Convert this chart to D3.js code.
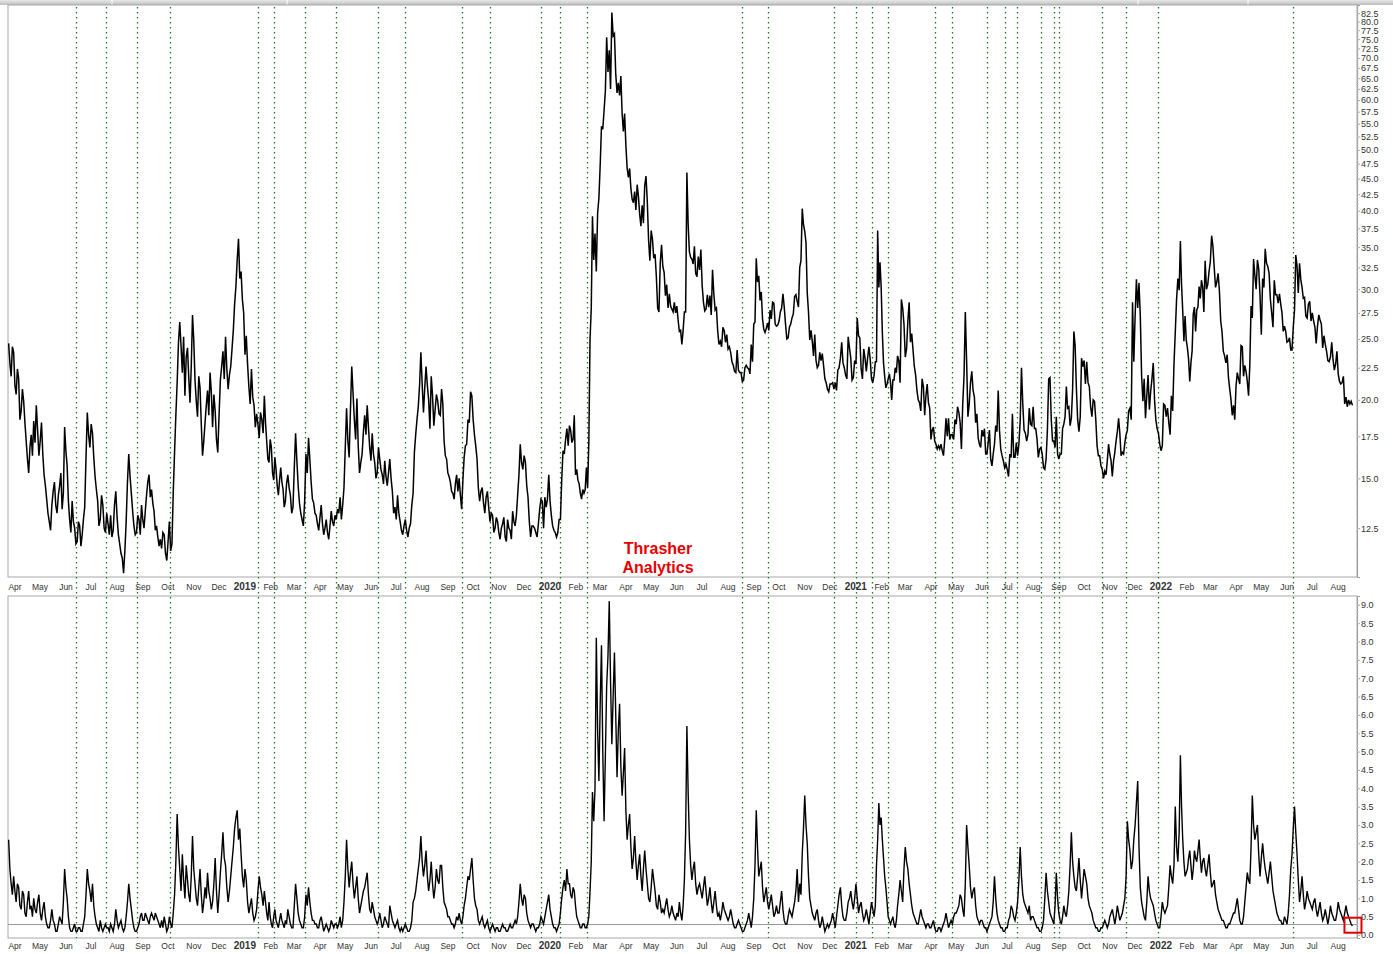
<!DOCTYPE html>
<html>
<head>
<meta charset="utf-8">
<script src="https://cdn.jsdelivr.net/npm/d3@7"></script>
<style>
  body { margin: 0; background: #fff; }
  svg { display: block; font-family: Arial, "Liberation Sans", sans-serif; }
</style>
</head>
<body>
<script>
// top panel values, 20 readings per month (2018 starts in April)
const vix2018 = [
  [24.6, 22.9, 21.8, 24.3, 23.8, 21.1, 20.4, 22.4, 21.6, 18.6, 19.2, 20.8, 19.9, 18.4, 17.2, 16.1, 15.3, 16.8, 17.6, 16.3],
  [18.5, 17.1, 19.6, 17.9, 16.3, 17.2, 18.4, 16.4, 15.2, 14.6, 13.9, 13.2, 12.8, 12.4, 13.6, 14.3, 14.8, 13.6, 13.2, 14.1],
  [14.6, 15.3, 13.4, 14.2, 18.1, 16.6, 15.7, 13.8, 12.9, 12.3, 13.8, 12.8, 12.5, 11.8, 11.9, 12.8, 12.6, 11.7, 12.2, 12.9],
  [13.5, 16.2, 19.1, 17.6, 16.8, 18.3, 17.7, 16.2, 15.1, 14.4, 13.8, 12.6, 12.9, 14.1, 13.6, 12.5, 12.3, 13.2, 12.7, 12.2],
  [13.1, 12.1, 12.4, 13.6, 14.3, 13.0, 12.2, 11.8, 11.4, 11.2, 10.6, 11.5, 12.8, 14.8, 16.4, 15.1, 14.2, 13.3, 12.6, 12.2],
  [12.3, 13.1, 12.9, 12.2, 13.6, 12.9, 12.5, 13.3, 14.1, 14.8, 15.2, 14.0, 14.4, 13.7, 13.3, 12.4, 12.6, 12.1, 11.7, 12.0],
  [11.6, 12.3, 12.2, 11.4, 11.1, 11.9, 12.8, 11.5, 11.8, 14.3, 16.5, 18.9, 21.3, 24.6, 26.6, 24.4, 22.1, 25.2, 20.3, 23.4],
  [24.2, 21.7, 19.8, 22.6, 27.3, 24.9, 21.5, 19.9, 18.8, 21.8, 20.9, 18.3, 16.3, 17.2, 18.4, 19.6, 20.7, 18.9, 22.1, 20.6],
  [18.1, 20.4, 19.2, 17.3, 16.5, 18.9, 21.5, 22.6, 23.9, 21.6, 25.2, 22.4, 20.8, 21.9, 22.6, 24.1, 25.8, 28.4, 30.3, 33.4]
];
const vix2019 = [
  [36.1, 31.2, 32.0, 28.9, 27.5, 23.6, 25.3, 22.8, 21.0, 19.7, 22.4, 20.2, 19.6, 18.1, 19.0, 18.3, 17.4, 19.1, 18.6, 17.7],
  [20.3, 18.4, 17.2, 16.1, 15.9, 17.3, 16.8, 15.3, 14.9, 16.2, 15.5, 14.6, 14.1, 14.9, 15.6, 14.8, 14.4, 13.5, 13.8, 14.7],
  [15.2, 14.5, 14.1, 13.2, 13.5, 15.6, 17.7, 16.0, 14.6, 13.7, 13.2, 12.9, 12.6, 13.8, 16.4, 15.3, 17.4, 16.1, 14.8, 13.9],
  [13.7, 13.2, 13.1, 12.7, 12.4, 13.0, 13.6, 12.7, 12.2, 12.5, 12.9, 12.3, 12.0, 12.6, 13.3, 12.8, 12.6, 13.1, 12.9, 13.4],
  [13.2, 14.0, 12.9, 13.6, 14.5, 16.8, 19.4, 17.2, 16.2, 19.3, 22.6, 20.5, 18.6, 17.3, 20.1, 16.9, 15.3, 15.9, 16.4, 17.8],
  [18.9, 17.6, 19.6, 18.1, 16.8, 16.0, 17.7, 16.4, 15.9, 15.0, 15.3, 16.8, 16.1, 15.5, 15.2, 14.7, 16.0, 15.1, 14.6, 15.3],
  [16.1, 15.0, 14.3, 13.2, 13.5, 12.9, 14.1, 13.2, 12.8, 12.4, 12.2, 12.6, 12.9, 12.4, 12.1, 12.5, 12.7, 13.6, 14.2, 16.5],
  [17.6, 18.6, 19.5, 21.1, 23.8, 21.2, 19.1, 20.9, 22.6, 21.1, 20.0, 18.0, 21.8, 20.3, 18.2, 19.3, 20.4, 19.9, 19.0, 18.9],
  [20.8, 19.7, 17.2, 16.3, 16.1, 15.3, 15.1, 14.8, 14.3, 14.2, 13.9, 14.7, 15.2, 14.3, 15.0, 14.1, 13.4, 14.9, 16.2, 16.9],
  [17.0, 18.6, 18.4, 20.6, 20.3, 18.6, 17.6, 16.9, 16.1, 14.5, 13.8, 14.3, 14.5, 13.7, 13.2, 14.0, 14.3, 13.5, 12.8, 13.2],
  [13.1, 12.3, 12.5, 13.0, 12.8, 12.3, 12.0, 12.5, 12.7, 13.0, 12.1, 11.9, 12.9, 12.5, 12.4, 12.0, 13.3, 12.8, 12.6, 13.1],
  [14.1, 15.2, 17.0, 15.9, 15.5, 16.3, 15.9, 14.6, 14.0, 12.8, 12.1, 12.6, 12.6, 12.5, 12.3, 12.1, 12.7, 13.4, 13.9, 13.8]
];
const vix2020 = [
  [12.5, 14.0, 13.5, 13.9, 15.2, 13.8, 13.1, 12.6, 12.4, 12.3, 12.1, 12.3, 12.9, 12.9, 14.9, 16.6, 16.4, 17.3, 18.0, 16.9],
  [18.2, 17.9, 17.1, 17.3, 18.9, 15.2, 15.5, 14.9, 14.7, 14.2, 13.9, 14.4, 14.2, 14.4, 15.6, 14.5, 17.1, 25.0, 27.9, 39.2],
  [33.4, 36.8, 32.0, 39.6, 41.9, 47.3, 54.5, 53.9, 57.8, 62.0, 75.5, 66.5, 72.0, 62.5, 82.7, 75.9, 76.5, 66.0, 61.6, 63.9],
  [61.0, 65.5, 57.1, 53.5, 57.1, 50.9, 46.8, 45.2, 46.7, 43.4, 41.7, 41.2, 42.9, 40.1, 44.0, 42.2, 39.5, 37.8, 40.8, 38.2],
  [43.8, 45.4, 41.4, 35.9, 33.3, 37.2, 36.0, 33.6, 34.1, 31.4, 28.0, 27.6, 33.0, 35.3, 32.6, 31.9, 29.3, 30.5, 28.0, 29.5],
  [28.2, 27.9, 27.6, 28.6, 27.5, 28.2, 26.8, 25.7, 25.8, 24.5, 25.8, 27.6, 27.6, 46.0, 38.1, 34.4, 33.7, 33.5, 32.9, 35.1],
  [31.8, 31.4, 33.8, 32.2, 34.7, 30.4, 28.6, 27.7, 27.9, 29.4, 28.1, 29.3, 27.3, 32.2, 29.5, 27.8, 28.0, 25.7, 24.5, 24.8],
  [24.3, 26.1, 25.8, 24.7, 25.4, 24.1, 24.3, 23.8, 23.0, 22.7, 22.2, 22.1, 24.0, 22.3, 22.1, 22.1, 21.4, 21.5, 22.5, 22.7],
  [22.5, 22.4, 22.0, 24.5, 23.0, 26.4, 26.6, 33.6, 30.8, 31.5, 28.8, 29.7, 26.9, 25.9, 25.6, 26.0, 26.5, 25.8, 27.8, 26.9],
  [28.6, 28.5, 26.4, 26.2, 26.3, 26.7, 27.6, 28.0, 29.5, 28.1, 26.4, 25.0, 25.1, 26.1, 26.4, 27.0, 27.4, 29.2, 29.4, 28.7],
  [28.1, 32.5, 33.3, 40.3, 38.0, 37.1, 35.6, 29.6, 27.6, 24.9, 25.8, 24.8, 23.5, 25.4, 23.1, 22.5, 22.7, 23.8, 23.1, 23.7],
  [22.7, 21.6, 21.3, 20.8, 20.6, 21.2, 21.2, 21.3, 20.8, 21.3, 20.7, 22.3, 22.5, 23.3, 24.7, 22.9, 22.5, 21.9, 21.6, 25.2]
];
const vix2021 = [
  [24.2, 23.3, 21.5, 21.7, 23.1, 22.8, 27.0, 25.3, 25.1, 22.4, 21.6, 24.1, 23.3, 22.2, 23.3, 24.3, 23.2, 21.6, 21.3, 21.9],
  [23.0, 23.0, 37.2, 30.2, 33.1, 30.2, 25.6, 22.9, 21.8, 20.9, 21.2, 21.6, 22.0, 21.3, 20.0, 21.5, 21.5, 22.5, 22.1, 23.5],
  [23.1, 21.3, 28.9, 28.0, 26.4, 23.4, 24.1, 26.7, 28.6, 24.7, 25.5, 24.0, 22.6, 21.9, 20.7, 20.0, 19.8, 19.2, 21.6, 21.0],
  [18.9, 20.3, 21.2, 19.8, 19.4, 17.3, 17.9, 18.1, 17.2, 17.0, 16.7, 16.9, 16.7, 17.0, 16.6, 16.3, 17.3, 18.7, 17.5, 18.7],
  [17.3, 17.6, 17.6, 17.3, 18.6, 18.3, 19.5, 19.1, 18.4, 16.7, 19.7, 21.8, 27.6, 23.1, 18.8, 19.7, 21.3, 22.2, 20.7, 20.2],
  [18.4, 19.0, 17.4, 17.0, 16.8, 17.9, 17.5, 18.0, 16.4, 16.4, 17.1, 17.9, 16.1, 15.7, 16.4, 17.0, 18.2, 17.8, 20.7, 17.9],
  [16.7, 16.3, 16.0, 15.6, 15.8, 15.5, 15.1, 16.4, 16.2, 19.0, 16.2, 16.2, 17.1, 16.3, 17.0, 18.5, 22.5, 19.7, 17.9, 17.7],
  [17.2, 17.6, 19.4, 18.3, 18.2, 19.5, 18.0, 18.0, 17.3, 16.2, 16.7, 16.8, 16.4, 15.6, 15.5, 16.1, 17.9, 21.6, 21.7, 18.6],
  [17.2, 17.2, 16.8, 18.8, 16.4, 16.1, 16.4, 16.4, 18.0, 18.3, 18.8, 21.0, 19.4, 19.5, 18.2, 18.7, 20.8, 25.7, 24.4, 20.9],
  [18.6, 17.8, 18.8, 23.3, 22.6, 23.1, 21.2, 23.0, 21.3, 21.0, 19.5, 18.8, 20.0, 19.9, 18.6, 16.9, 16.3, 16.3, 15.7, 15.5],
  [15.0, 15.4, 15.2, 16.0, 17.0, 16.4, 16.0, 15.1, 16.0, 16.5, 17.2, 17.8, 18.7, 17.7, 16.3, 16.5, 16.4, 17.1, 17.6, 17.9],
  [19.2, 19.4, 18.6, 28.6, 23.0, 27.2, 31.1, 28.0, 30.7, 27.2, 21.9, 19.9, 21.6, 18.7, 20.3, 21.9, 19.3, 20.6, 21.6, 22.9]
];
const vix2022 = [
  [20.0, 18.6, 18.0, 17.7, 17.0, 16.6, 16.9, 19.7, 19.6, 18.8, 19.4, 18.4, 17.6, 20.3, 19.2, 22.8, 25.6, 28.9, 31.2, 29.9],
  [35.8, 30.5, 27.7, 24.8, 27.2, 24.9, 24.2, 23.2, 21.4, 22.9, 23.9, 27.4, 28.1, 25.7, 27.8, 28.1, 30.3, 29.0, 31.0, 30.3],
  [27.6, 33.3, 30.0, 30.5, 32.0, 33.2, 36.5, 35.1, 32.5, 30.2, 30.8, 31.8, 29.8, 26.7, 25.7, 23.9, 23.5, 22.9, 23.6, 21.7],
  [20.8, 20.0, 18.9, 19.6, 18.6, 21.0, 22.1, 21.6, 21.2, 24.4, 24.3, 21.8, 22.7, 22.2, 21.4, 20.3, 22.7, 28.2, 27.0, 33.5],
  [31.6, 30.0, 33.4, 32.3, 29.3, 25.4, 31.2, 30.2, 34.8, 33.0, 32.6, 31.8, 28.9, 27.5, 26.1, 31.0, 29.4, 29.4, 28.5, 29.5],
  [28.4, 27.5, 25.7, 26.2, 25.7, 24.7, 24.8, 25.1, 24.0, 24.0, 26.1, 27.8, 34.0, 32.7, 29.6, 33.0, 31.1, 30.2, 29.0, 29.1],
  [27.2, 27.0, 28.4, 28.7, 26.7, 27.5, 26.7, 26.1, 24.6, 26.2, 27.3, 26.8, 26.4, 24.2, 25.3, 24.5, 23.9, 23.1, 23.0, 23.4],
  [24.7, 23.2, 22.3, 22.8, 23.9, 22.0, 21.4, 21.2, 21.3, 21.8, 19.7, 20.2, 19.5, 20.0, 19.7, 19.9, 19.6]
];

// lower panel values, same layout
const low2018 = [
  [2.6, 1.8, 1.4, 1.1, 1.6, 1.2, 0.9, 1.4, 1.3, 0.8, 0.7, 1.2, 1.1, 0.6, 0.5, 0.9, 1.2, 0.7, 0.8, 0.5],
  [1.0, 0.7, 0.6, 0.9, 1.1, 0.6, 0.4, 0.7, 0.9, 0.5, 0.3, 0.2, 0.2, 0.4, 0.7, 0.4, 0.3, 0.1, 0.1, 0.3],
  [0.5, 0.4, 0.3, 0.9, 1.8, 1.3, 1.0, 0.5, 0.2, 0.1, 0.1, 0.2, 0.3, 0.1, 0.1, 0.2, 0.2, 0.1, 0.1, 0.3],
  [0.5, 1.1, 1.8, 1.4, 1.2, 0.9, 1.4, 0.8, 0.5, 0.3, 0.2, 0.1, 0.4, 0.2, 0.1, 0.2, 0.3, 0.2, 0.2, 0.1],
  [0.3, 0.2, 0.1, 0.3, 0.7, 0.4, 0.2, 0.3, 0.4, 0.2, 0.1, 0.2, 0.5, 0.9, 1.4, 1.0, 0.7, 0.4, 0.2, 0.1],
  [0.1, 0.2, 0.3, 0.5, 0.6, 0.4, 0.4, 0.6, 0.5, 0.4, 0.3, 0.5, 0.6, 0.5, 0.4, 0.6, 0.5, 0.4, 0.3, 0.2],
  [0.4, 0.2, 0.5, 0.3, 0.1, 0.2, 0.5, 0.3, 0.2, 0.6, 1.1, 2.0, 3.3, 2.4, 1.8, 1.2, 2.2, 1.5, 1.0, 1.9],
  [1.5, 1.1, 0.9, 1.6, 2.7, 1.8, 1.4, 1.0, 0.8, 1.3, 1.8, 1.1, 0.6, 0.9, 1.3, 1.0, 1.7, 1.2, 1.0, 0.7],
  [0.9, 1.4, 2.1, 1.2, 0.6, 1.1, 1.7, 2.2, 2.8, 2.1, 1.9, 1.3, 0.9, 1.2, 1.6, 2.0, 2.4, 2.9, 3.2, 3.4]
];
const low2019 = [
  [2.6, 2.9, 2.2, 1.6, 1.3, 1.8, 1.5, 0.9, 0.6, 0.8, 1.0, 0.6, 0.4, 0.5, 0.7, 1.2, 1.6, 1.3, 1.1, 0.8],
  [1.2, 0.9, 0.6, 0.4, 0.9, 0.5, 0.3, 0.2, 0.5, 0.7, 0.4, 0.3, 0.2, 0.4, 0.6, 0.4, 0.3, 0.2, 0.4, 0.3],
  [0.7, 0.5, 0.3, 0.2, 0.2, 0.8, 1.4, 1.0, 0.6, 0.4, 0.3, 0.2, 0.2, 0.5, 1.1, 0.8, 1.3, 0.9, 0.6, 0.4],
  [0.4, 0.3, 0.3, 0.2, 0.2, 0.4, 0.5, 0.3, 0.1, 0.2, 0.3, 0.2, 0.1, 0.2, 0.4, 0.3, 0.2, 0.3, 0.3, 0.2],
  [0.3, 0.5, 0.2, 0.4, 0.9, 1.6, 2.6, 1.8, 1.3, 1.7, 2.0, 1.4, 1.0, 1.3, 1.6, 1.0, 0.6, 0.8, 1.0, 1.2],
  [1.3, 1.5, 1.7, 1.1, 0.7, 0.6, 0.9, 0.7, 0.5, 0.4, 0.3, 0.4, 0.6, 0.4, 0.2, 0.3, 0.5, 0.4, 0.3, 0.2],
  [0.8, 0.6, 0.4, 0.3, 0.2, 0.3, 0.4, 0.2, 0.1, 0.2, 0.1, 0.2, 0.3, 0.2, 0.1, 0.1, 0.2, 0.4, 0.9, 1.0],
  [1.2, 1.5, 1.8, 2.1, 2.7, 2.0, 1.6, 1.9, 2.3, 1.6, 1.2, 1.5, 2.0, 1.4, 1.0, 1.3, 1.8, 1.5, 1.4, 1.9],
  [1.9, 1.3, 0.9, 0.8, 0.7, 0.5, 0.5, 0.4, 0.3, 0.3, 0.2, 0.3, 0.5, 0.4, 0.6, 0.4, 0.3, 0.5, 0.8, 1.0],
  [1.3, 1.6, 1.5, 1.8, 2.1, 1.5, 1.0, 0.8, 0.7, 0.4, 0.3, 0.4, 0.5, 0.3, 0.2, 0.3, 0.4, 0.2, 0.1, 0.2],
  [0.3, 0.2, 0.1, 0.2, 0.2, 0.1, 0.1, 0.2, 0.3, 0.2, 0.2, 0.1, 0.1, 0.2, 0.3, 0.2, 0.2, 0.3, 0.4, 0.3],
  [0.5, 0.9, 1.4, 1.0, 0.8, 1.1, 1.0, 0.6, 0.4, 0.3, 0.2, 0.3, 0.3, 0.2, 0.1, 0.2, 0.2, 0.3, 0.5, 0.4]
];
const low2020 = [
  [0.3, 0.5, 0.7, 0.9, 1.1, 0.7, 0.5, 0.3, 0.2, 0.2, 0.1, 0.2, 0.3, 0.6, 1.0, 1.3, 1.5, 1.2, 1.8, 1.4],
  [1.4, 1.1, 1.0, 1.3, 1.2, 0.8, 0.5, 0.4, 0.3, 0.2, 0.2, 0.3, 0.3, 0.2, 0.2, 0.3, 0.5, 1.2, 2.0, 3.9],
  [3.1, 4.0, 8.1, 5.6, 4.2, 6.3, 7.9, 5.0, 3.1, 4.9, 6.8, 7.6, 9.1, 6.9, 5.2, 6.5, 7.7, 6.0, 4.3, 5.6],
  [6.3, 4.6, 3.8, 4.4, 5.1, 3.4, 2.6, 3.0, 3.3, 2.4, 1.8, 2.1, 2.7, 2.0, 1.5, 1.9, 2.2, 1.6, 1.2, 1.8],
  [2.3, 1.8, 1.4, 1.0, 0.9, 1.3, 1.8, 1.5, 1.2, 0.8, 0.7, 1.1, 0.9, 0.6, 0.7, 0.6, 0.8, 1.0, 0.7, 0.5],
  [0.6, 0.8, 0.6, 0.5, 0.4, 0.6, 0.5, 0.9, 0.6, 0.4, 0.8, 1.5, 2.8, 5.7, 3.9, 2.6, 1.9, 1.5, 1.8, 2.0],
  [1.4, 1.1, 1.3, 1.4, 1.2, 1.0, 1.3, 1.6, 1.2, 0.8, 1.0, 1.3, 0.9, 0.6, 0.9, 1.2, 0.8, 0.5, 0.6, 0.4],
  [0.6, 0.9, 0.7, 0.6, 0.5, 0.4, 0.5, 0.7, 0.5, 0.3, 0.2, 0.2, 0.3, 0.4, 0.3, 0.2, 0.1, 0.1, 0.2, 0.3],
  [0.4, 0.6, 0.4, 0.2, 0.5, 1.0, 1.9, 3.4, 2.4, 1.6, 1.8, 2.0, 1.3, 0.9, 1.1, 1.3, 0.9, 0.7, 0.9, 1.1],
  [0.8, 0.5, 0.6, 0.8, 0.6, 0.6, 0.9, 1.2, 0.7, 0.4, 0.3, 0.3, 0.5, 0.7, 0.6, 0.5, 0.7, 0.9, 1.2, 1.8],
  [0.9, 1.4, 1.1, 2.2, 2.9, 3.8, 3.0, 2.5, 1.6, 1.0, 0.8, 0.6, 0.5, 0.4, 0.6, 0.7, 0.4, 0.2, 0.3, 0.5],
  [0.3, 0.1, 0.2, 0.3, 0.2, 0.3, 0.4, 0.6, 0.4, 0.2, 0.5, 0.8, 1.1, 1.3, 0.8, 0.5, 0.4, 0.4, 0.6, 0.9]
];
const low2021 = [
  [1.0, 1.2, 0.9, 0.7, 1.0, 1.4, 1.0, 0.6, 0.8, 0.9, 0.6, 0.4, 0.5, 0.7, 0.5, 0.3, 0.6, 0.9, 0.7, 0.5],
  [0.8, 1.9, 2.6, 3.6, 3.0, 3.2, 2.6, 2.1, 1.6, 1.3, 0.9, 0.5, 0.4, 0.3, 0.4, 0.5, 0.3, 0.2, 0.4, 0.8],
  [1.1, 1.5, 1.2, 0.9, 1.8, 2.4, 2.0, 1.8, 1.4, 1.1, 0.8, 0.6, 0.5, 0.4, 0.3, 0.3, 0.5, 0.7, 0.5, 0.4],
  [0.3, 0.2, 0.3, 0.3, 0.2, 0.2, 0.3, 0.4, 0.2, 0.1, 0.1, 0.2, 0.2, 0.1, 0.2, 0.3, 0.4, 0.6, 0.4, 0.2],
  [0.3, 0.4, 0.3, 0.5, 0.6, 0.6, 0.7, 0.8, 1.1, 1.0, 0.7, 0.5, 1.4, 3.0, 2.4, 1.9, 1.3, 1.0, 1.2, 1.3],
  [0.8, 0.5, 0.4, 0.3, 0.4, 0.4, 0.3, 0.2, 0.2, 0.1, 0.2, 0.3, 0.4, 0.5, 0.9, 1.6, 1.0, 0.6, 0.4, 0.3],
  [0.2, 0.2, 0.1, 0.1, 0.2, 0.2, 0.4, 0.5, 0.8, 0.7, 0.5, 0.4, 0.6, 0.9, 1.5, 2.4, 1.6, 1.1, 0.9, 0.8],
  [0.7, 0.6, 0.8, 0.4, 0.5, 0.5, 0.4, 0.3, 0.2, 0.2, 0.1, 0.1, 0.2, 0.4, 1.0, 1.7, 1.2, 0.9, 0.6, 0.5],
  [0.4, 0.3, 0.8, 1.7, 1.0, 0.6, 0.4, 0.3, 0.5, 0.8, 0.6, 0.5, 0.8, 1.2, 1.9, 2.8, 2.0, 1.6, 1.3, 1.2],
  [1.6, 2.1, 1.5, 1.0, 1.4, 1.8, 1.6, 1.4, 1.0, 0.8, 0.7, 0.6, 0.4, 0.3, 0.2, 0.2, 0.1, 0.1, 0.2, 0.2],
  [0.3, 0.4, 0.3, 0.2, 0.3, 0.5, 0.6, 0.7, 0.5, 0.3, 0.5, 0.8, 0.6, 0.4, 0.5, 0.6, 0.8, 1.0, 1.6, 3.1],
  [2.6, 2.3, 1.8, 2.0, 2.6, 3.0, 3.6, 4.2, 2.4, 1.3, 0.9, 0.7, 0.5, 0.4, 0.9, 1.6, 1.2, 1.0, 0.9, 0.8]
];
const low2022 = [
  [0.6, 0.4, 0.3, 0.2, 0.2, 0.5, 0.9, 0.7, 0.6, 0.7, 0.8, 1.3, 1.9, 1.6, 1.4, 1.9, 3.5, 2.4, 2.0, 2.8],
  [4.9, 3.5, 2.6, 2.0, 1.6, 1.7, 1.8, 2.1, 2.3, 1.9, 1.5, 1.8, 2.3, 2.1, 2.0, 2.3, 2.6, 2.1, 1.7, 2.0],
  [2.1, 1.8, 1.6, 1.9, 2.2, 1.7, 1.3, 1.4, 1.5, 1.1, 0.9, 0.7, 0.6, 0.5, 0.4, 0.4, 0.3, 0.2, 0.2, 0.3],
  [0.3, 0.4, 0.5, 0.6, 0.6, 0.8, 1.0, 0.7, 0.4, 0.3, 0.3, 0.5, 0.9, 1.3, 1.7, 1.5, 1.4, 2.4, 3.8, 3.0],
  [2.6, 2.8, 3.0, 2.2, 1.6, 2.1, 2.5, 2.1, 1.8, 1.6, 1.4, 1.7, 2.0, 1.6, 1.2, 1.0, 0.8, 0.6, 0.5, 0.4],
  [0.4, 0.3, 0.3, 0.5, 0.4, 0.3, 0.6, 1.1, 1.8, 2.2, 2.9, 3.5, 2.8, 2.2, 1.5, 0.9, 1.2, 1.6, 1.1, 0.7],
  [0.9, 1.2, 1.0, 0.9, 0.8, 0.7, 0.9, 1.0, 0.7, 0.5, 0.7, 0.9, 0.6, 0.4, 0.5, 0.7, 0.5, 0.3, 0.5, 0.8],
  [0.6, 0.5, 0.4, 0.4, 0.6, 0.9, 0.7, 0.6, 0.5, 0.4, 0.6, 0.8, 0.6, 0.5, 0.4, 0.3, 0.25]
];
const perMonth = 20;

const signalDates = [
  "2018-06-21", "2018-07-27", "2018-09-02", "2018-10-12", "2019-01-25", "2019-02-13",
  "2019-03-22", "2019-04-28", "2019-06-18", "2019-07-20", "2019-09-26", "2019-10-30",
  "2019-12-30", "2020-01-21", "2020-02-23", "2020-08-26", "2020-09-26", "2020-12-14",
  "2021-01-10", "2021-01-29", "2021-02-17", "2021-04-14", "2021-05-05", "2021-06-15",
  "2021-07-07", "2021-07-21", "2021-08-19", "2021-09-03", "2021-09-09", "2021-10-31",
  "2021-11-29", "2022-01-06", "2022-06-16"
];

const topTicks = [12.5, 15, 17.5, 20, 22.5, 25, 27.5, 30, 32.5, 35, 37.5, 40, 42.5, 45, 47.5,
  50, 52.5, 55, 57.5, 60, 62.5, 65, 67.5, 70, 72.5, 75, 77.5, 80, 82.5];
const bottomTicks = [0, 0.5, 1, 1.5, 2, 2.5, 3, 3.5, 4, 4.5, 5, 5.5, 6, 6.5, 7, 7.5, 8, 8.5, 9];
const thresholdLevel = 0.3;

const width = 1393, height = 954;
const left = 8, right = 1357;
const top1 = 5, bot1 = 577, top2 = 596, bot2 = 938;

const parse = d3.timeParse("%Y-%m-%d");
const x = d3.scaleTime()
  .domain([new Date(2018, 3, 1), new Date(2022, 8, 1)])
  .range([left, right]);
const yTop = d3.scaleLog().domain([10.45, 85]).range([bot1, top1]);
const yBot = d3.scaleLinear().domain([-0.08, 9.24]).range([bot2, top2]);

// spread each month's readings evenly across the month
function buildSeries(parts) {
  const out = [];
  parts.forEach(([year, firstMonth, months]) => {
    months.forEach((vals, mi) => {
      const start = new Date(year, firstMonth + mi, 1);
      const span = d3.timeMonth.offset(start, 1) - start;
      vals.forEach((v, i) => {
        out.push({ date: new Date(+start + span * (i + 0.5) / perMonth), value: v });
      });
    });
  });
  return out;
}

const topData = buildSeries([[2018, 3, vix2018], [2019, 0, vix2019], [2020, 0, vix2020], [2021, 0, vix2021], [2022, 0, vix2022]]);
const botData = buildSeries([[2018, 3, low2018], [2019, 0, low2019], [2020, 0, low2020], [2021, 0, low2021], [2022, 0, low2022]]);

const svg = d3.select("body").append("svg")
  .attr("width", width).attr("height", height);

svg.append("rect").attr("width", width).attr("height", height).attr("fill", "#fff");

// header strip
const hdr = svg.append("linearGradient").attr("id", "hdr").attr("x1", 0).attr("x2", 0).attr("y1", 0).attr("y2", 1);
hdr.append("stop").attr("offset", 0).attr("stop-color", "#e8e8e8");
hdr.append("stop").attr("offset", 1).attr("stop-color", "#bdbdbd");
svg.append("rect").attr("x", 0).attr("y", 0).attr("width", width).attr("height", top1).attr("fill", "url(#hdr)");
[112, 287, 1138, 1248].forEach(px => {
  svg.append("line").attr("x1", px).attr("x2", px).attr("y1", 0).attr("y2", top1)
    .attr("stroke", "#fff").attr("stroke-width", 1);
});

const defs = svg.append("defs");
defs.append("clipPath").attr("id", "c1").append("rect")
  .attr("x", left).attr("y", top1).attr("width", right - left).attr("height", bot1 - top1);
defs.append("clipPath").attr("id", "c2").append("rect")
  .attr("x", left).attr("y", top2).attr("width", right - left).attr("height", bot2 - top2);

// panel frames
[[top1, bot1], [top2, bot2]].forEach(([t, b]) => {
  svg.append("rect").attr("x", left).attr("y", t).attr("width", right - left).attr("height", b - t)
    .attr("fill", "none").attr("stroke", "#a8a8a8").attr("stroke-width", 1);
});

// threshold line in lower panel
svg.append("line")
  .attr("x1", left).attr("x2", right)
  .attr("y1", Math.round(yBot(thresholdLevel)) + 0.5).attr("y2", Math.round(yBot(thresholdLevel)) + 0.5)
  .attr("stroke", "#9a9a9a").attr("stroke-width", 1);

// green dotted signal lines
svg.append("g").selectAll("line")
  .data(signalDates.map(parse))
  .join("line")
  .attr("x1", d => Math.round(x(d)) + 0.5).attr("x2", d => Math.round(x(d)) + 0.5)
  .attr("y1", top1 + 2).attr("y2", bot2)
  .attr("stroke", "#1f7a1f").attr("stroke-width", 1.3)
  .attr("stroke-dasharray", "1.5,3.5");

// series lines
const lineTop = d3.line().x(d => x(d.date)).y(d => yTop(d.value));
const lineBot = d3.line().x(d => x(d.date)).y(d => yBot(d.value));
svg.append("path").datum(topData).attr("clip-path", "url(#c1)")
  .attr("d", lineTop).attr("fill", "none").attr("stroke", "#000").attr("stroke-width", 1.5);
svg.append("path").datum(botData).attr("clip-path", "url(#c2)")
  .attr("d", lineBot).attr("fill", "none").attr("stroke", "#000").attr("stroke-width", 1.4);

// right axes
const axTop = svg.append("g").attr("transform", `translate(${right},0)`)
  .call(d3.axisRight(yTop).tickValues(topTicks).tickSize(3).tickFormat(d3.format(".1f")));
const axBot = svg.append("g").attr("transform", `translate(${right},0)`)
  .call(d3.axisRight(yBot).tickValues(bottomTicks).tickSize(3).tickFormat(d3.format(".1f")));
[axTop, axBot].forEach(ax => {
  ax.select(".domain").attr("stroke", "#999");
  ax.selectAll(".tick line").attr("stroke", "#aaa");
  ax.selectAll(".tick text").attr("x", 4).attr("fill", "#333")
    .style("font-size", "9px").style("font-family", "Arial, 'Liberation Sans', sans-serif");
});
// minor ticks
const minorTop = d3.range(11, 85, 0.5);
svg.append("g").selectAll("line").data(minorTop).join("line")
  .attr("x1", right).attr("x2", right + 2)
  .attr("y1", d => yTop(d)).attr("y2", d => yTop(d))
  .attr("stroke", "#ccc").attr("stroke-width", 0.6);
const minorBot = d3.range(0, 9.2, 0.1);
svg.append("g").selectAll("line").data(minorBot).join("line")
  .attr("x1", right).attr("x2", right + 2)
  .attr("y1", d => yBot(d)).attr("y2", d => yBot(d))
  .attr("stroke", "#ccc").attr("stroke-width", 0.6);

// month labels under each panel
const months = d3.timeMonth.range(new Date(2018, 3, 1), new Date(2022, 8, 1));
const monthFmt = d3.timeFormat("%b");
[bot1 + 13, bot2 + 11].forEach(yy => {
  svg.append("g").selectAll("text").data(months).join("text")
    .attr("x", d => x(d) + 7)
    .attr("y", yy)
    .attr("text-anchor", "middle")
    .attr("fill", "#333")
    .style("font-size", d => d.getMonth() === 0 ? "10px" : "8.5px")
    .style("font-weight", d => d.getMonth() === 0 ? "bold" : "normal")
    .text(d => d.getMonth() === 0 ? d.getFullYear() : monthFmt(d));
});

// watermark
svg.append("text").attr("x", 658).attr("y", 554).attr("text-anchor", "middle")
  .attr("fill", "#e60000").style("font-size", "16px").style("font-weight", "bold")
  .text("Thrasher");
svg.append("text").attr("x", 658).attr("y", 573).attr("text-anchor", "middle")
  .attr("fill", "#e60000").style("font-size", "16px").style("font-weight", "bold")
  .text("Analytics");

// red marker box around last reading
const lastBot = botData[botData.length - 1];
svg.append("rect")
  .attr("x", x(lastBot.date) - 8).attr("y", yBot(0.5) + 1)
  .attr("width", 17).attr("height", 15)
  .attr("fill", "none").attr("stroke", "#e00000").attr("stroke-width", 2);
</script>
</body>
</html>
